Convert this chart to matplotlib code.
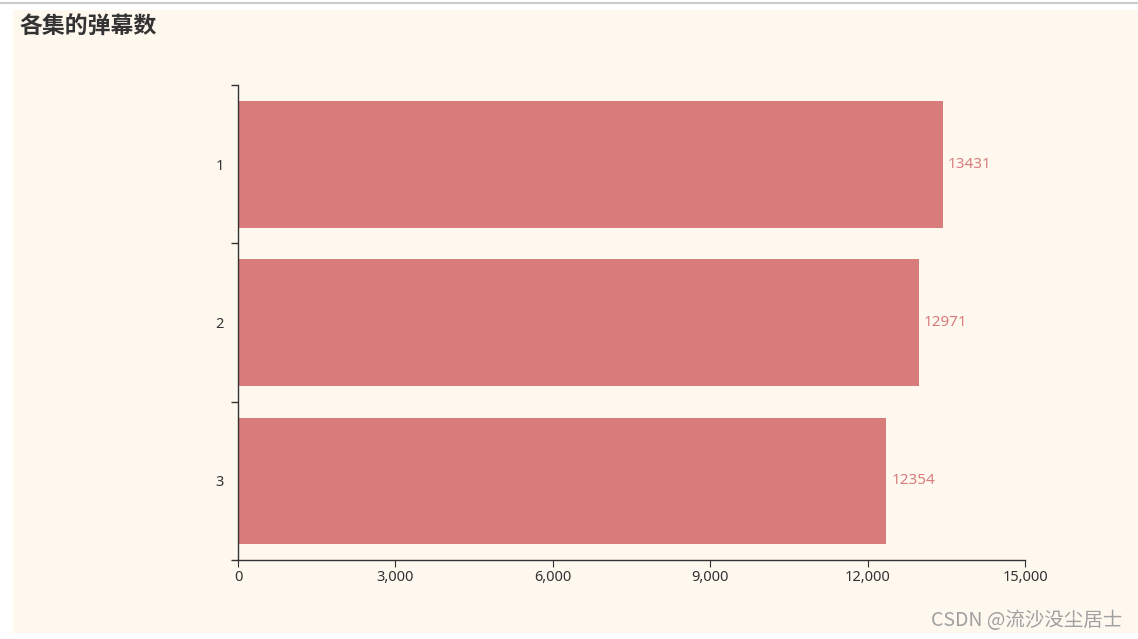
# -*- coding: utf-8 -*-
import matplotlib
matplotlib.use("Agg")
import matplotlib.pyplot as plt
from matplotlib.patches import Rectangle
from matplotlib.lines import Line2D
from matplotlib.ticker import FuncFormatter

plt.rcParams['font.family'] = ['Noto Sans CJK SC', 'DejaVu Sans']

episodes = ["1", "2", "3"]
counts = [13431, 12971, 12354]

bar_color = "#d87c7c"
bg_color = "#fef8ef"
num_font = ['Noto Sans', 'DejaVu Sans']

fig = plt.figure(figsize=(11.38, 6.39), dpi=100)
fig.patch.set_facecolor("white")

# beige panel + thin gray line at top (screenshot frame)
fig.add_artist(Rectangle((13/1138, 6/639), 1 - 13/1138, 1 - 16/639,
                         transform=fig.transFigure, facecolor=bg_color,
                         edgecolor="none", zorder=0))
fig.add_artist(Line2D([0, 1], [1 - 3/639, 1 - 3/639], transform=fig.transFigure,
                      color="#cccccc", lw=1.5, zorder=1))

ax = fig.add_axes([238/1138, 1 - 560/639, (1025 - 238)/1138, 475/639])
ax.set_facecolor("none")

pos = list(range(len(episodes)))
ax.barh(pos, counts, height=0.8, color=bar_color, zorder=2)
for p, v in zip(pos, counts):
    ax.text(v + 100, p, str(v), va="center", ha="left", color=bar_color,
            fontsize=11, family=num_font)

ax.set_xlim(0, 15000)
ax.set_ylim(2.5, -0.5)
ax.set_xticks([0, 3000, 6000, 9000, 12000, 15000])
ax.xaxis.set_major_formatter(FuncFormatter(lambda x, _: f"{int(x):,}"))
ax.set_yticks(pos)
ax.set_yticklabels(episodes)
ax.set_yticks([-0.5, 0.5, 1.5, 2.5], minor=True)
ax.tick_params(axis="y", which="major", length=0, pad=10, labelsize=10.5, labelcolor="#333333")
ax.tick_params(axis="y", which="minor", length=5, color="#333333", width=1)
ax.tick_params(axis="x", length=5, color="#333333", labelsize=10.5, labelcolor="#333333", pad=2)
for lbl in ax.get_xticklabels() + ax.get_yticklabels():
    lbl.set_family(num_font)

for s in ["top", "right"]:
    ax.spines[s].set_visible(False)
for s in ["left", "bottom"]:
    ax.spines[s].set_color("#333333")
    ax.spines[s].set_linewidth(1)

fig.text(19/1138, 1 - 26/639, "各集的弹幕数", fontsize=16.5, fontweight="bold",
         color="#333333", va="center", ha="left")
fig.text(1122/1138, 1 - 620/639, "CSDN @流沙没尘居士", fontsize=14, color="#a0a0a0",
         va="center", ha="right")

fig.savefig("out.png", dpi=100, facecolor=fig.get_facecolor())
